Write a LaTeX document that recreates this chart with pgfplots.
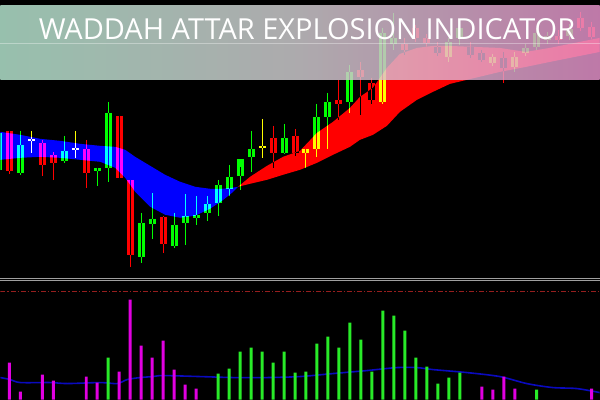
\documentclass[border=0pt]{standalone}
\usepackage{pgfplots}
\pgfplotsset{compat=1.18}
\usepackage{pgfplotstable}
\usepackage{fontspec}
\newfontfamily\titlefont{Open Sans}

\definecolor{cgreen}{RGB}{0,255,0}
\definecolor{cred}{RGB}{255,0,0}
\definecolor{cdoji}{RGB}{255,255,0}
\definecolor{bandblue}{RGB}{0,0,255}
\definecolor{bandred}{RGB}{255,0,0}
\definecolor{histgreen}{RGB}{40,235,40}
\definecolor{histmag}{RGB}{225,0,225}
\definecolor{sigblue}{RGB}{10,10,190}
\definecolor{dzred}{RGB}{150,30,30}
\definecolor{bannerL}{RGB}{185,235,212}
\definecolor{bannerM}{RGB}{212,208,212}
\definecolor{bannerR}{RGB}{232,148,205}

% price rows (screen scale), x = bar time position
\pgfplotstableread{
x o h l c
-2 170 128 178 133
20 173 131 175 145
64 161 136 163 151
97 171 168 186 168
108 168 102 182 113
141 257 213 263 223
152 224 193 239 219
174 246 213 248 225
185 223 194 245 216
196 218 196 225 215
207 213 196 221 204
218 203 180 216 185
229 189 165 196 177
240 176 167 190 159
251 157 131 172 149
284 153 124 154 138
306 153 149 168 149
317 149 104 157 117
328 117 93 149 102
350 102 65 113 72
383 102 28 104 33
394 44 13 50 38
449 57 38 62 42
460 38 24 45 28
493 63 54 66 57
515 67 52 72 57
526 53 44 56 48
537 47 28 50 33
548 40 32 44 36
570 36 24 40 29
}\upcandles

\pgfplotstableread{
x o h l c
9 131 131 174 171
42 143 140 176 165
53 155 152 180 163
86 149 140 188 173
119 116 116 178 178
130 180 180 267 255
163 217 216 253 244
273 138 126 168 153
295 136 129 156 153
339 100 80 120 104
361 70 62 115 77
372 83 78 104 100
405 44 38 55 50
416 28 25 42 38
427 38 34 47 43
438 47 42 56 53
471 47 42 58 55
482 53 50 62 60
504 58 52 83 68
559 36 30 44 40
581 18 12 31 28
592 27 22 40 37
}\downcandles

\pgfplotstableread{
x o h l c
31 140 131 153 140
75 149 131 158 149
262 147 119 158 147
}\dojicandles

% band outlines: upper edge left to right, then lower edge right to left
\pgfplotstableread{
x y
0 132
20 135
40 139
60 141
80 144
100 146
115 147
125 150
135 157
150 166
165 175
180 182
195 187
210 189
222 189
232 188
238 187
232 193
222 201
210 209
195 216
180 218
165 215
150 207
135 192
125 178
115 168
100 162
80 160
60 158
40 157
20 158
0 160
}\blueband

\pgfplotstableread{
x y
238 187
250 177
267 166
283 157
300 151
317 133
333 122
350 108
360 97
373 88
387 68
400 54
417 48
433 46
450 46
475 47
500 48
526 52
550 48
575 43
600 38
600 52
575 57
550 62
526 67
500 72
475 78
450 84
433 92
417 100
400 112
387 126
373 135
360 140
350 147
333 155
317 163
300 170
283 175
267 180
250 184
}\redband

\pgfplotstableread{
x v
108 42
218 26
229 31
240 48
251 52
262 48
273 37
284 48
295 27
306 28
317 56
328 63
339 52
350 77
361 60
372 28
383 89
394 84
405 69
416 42
427 33
438 16
449 22
460 27
537 10
}\histup

\pgfplotstableread{
x v
9 37
20 8
42 25
53 19
86 23
97 17
119 28
130 100
141 54
152 42
163 59
174 30
185 15
196 11
482 13
493 10
504 23
515 11
592 11
}\histdown

\pgfplotstableread{
x v
0 22
10 20
20 17
50 17
67 16
100 17
117 16
127 20
140 22
153 23
163 24
200 23
233 22
267 22
300 23
333 26
367 29
397 32
417 32
433 30
467 27
500 23
527 16
553 12
577 11
600 7
}\sigline

\pgfplotsset{
  body/.style={only marks, mark=none,
    error bars/.cd, y dir=plus, y explicit, error mark=none,
    error bar style={line width=7pt, color=#1}},
  wick/.style={only marks, mark=none,
    error bars/.cd, y dir=plus, y explicit, error mark=none,
    error bar style={line width=1pt, color=#1}},
}

\begin{document}
\begin{tikzpicture}
\fill[black] (0,0) rectangle (600pt,400pt);

\begin{scope}[blend mode=difference]
\begin{axis}[
  at={(0pt,122pt)}, anchor=south west,
  scale only axis, width=600pt, height=278pt,
  xmin=0, xmax=600, ymin=0, ymax=278, y dir=reverse,
  hide axis, clip=true,
]
\addplot[fill=bandblue, draw=none] table[x=x, y=y] {\blueband} -- cycle;
\addplot[fill=bandred, draw=none] table[x=x, y=y] {\redband} -- cycle;

\addplot[wick=cgreen] table[x=x, y=h, y error expr=\thisrow{l}-\thisrow{h}] {\upcandles};
\addplot[body=cgreen] table[x=x, y=c, y error expr=\thisrow{o}-\thisrow{c}] {\upcandles};
\addplot[wick=cred] table[x=x, y=h, y error expr=\thisrow{l}-\thisrow{h}] {\downcandles};
\addplot[body=cred] table[x=x, y=o, y error expr=\thisrow{c}-\thisrow{o}] {\downcandles};
\addplot[wick=cdoji] table[x=x, y=h, y error expr=\thisrow{l}-\thisrow{h}] {\dojicandles};
\addplot[body=cdoji] table[x=x, y expr=\thisrow{o}-0.75, y error expr=1.5] {\dojicandles};
\end{axis}
\end{scope}

\begin{axis}[
  at={(0pt,0pt)}, anchor=south west,
  scale only axis, width=600pt, height=117pt,
  xmin=0, xmax=600, ymin=0, ymax=117,
  hide axis, clip=true,
]
\addplot[dzred, line width=1pt, dash pattern=on 5pt off 2pt on 1.2pt off 2pt] coordinates {(0,108) (600,108)};
\addplot[sigblue, line width=1.6pt, smooth] table[x=x, y=v] {\sigline};
\addplot[ybar, bar width=3pt, bar shift=0pt, fill=histgreen, draw=none] table[x=x, y=v] {\histup};
\addplot[ybar, bar width=3pt, bar shift=0pt, fill=histmag, draw=none] table[x=x, y=v] {\histdown};
\end{axis}

\draw[gray!75, line width=0.7pt] (0,120.9pt) -- (600pt,120.9pt);
\draw[gray!75, line width=0.7pt] (0,119.1pt) -- (600pt,119.1pt);

\shade[left color=bannerL, right color=bannerR, middle color=bannerM, fill opacity=0.82]
  (0,320pt) rectangle (600pt,394pt);
\draw[white, opacity=0.35, line width=0.7pt] (0,357pt) -- (600pt,357pt);
\node[anchor=base, text=white, inner sep=0pt,
  font=\titlefont\fontsize{29}{29}\selectfont] at (307pt,360pt) {WADDAH ATTAR EXPLOSION INDICATOR};
\end{tikzpicture}
\end{document}
